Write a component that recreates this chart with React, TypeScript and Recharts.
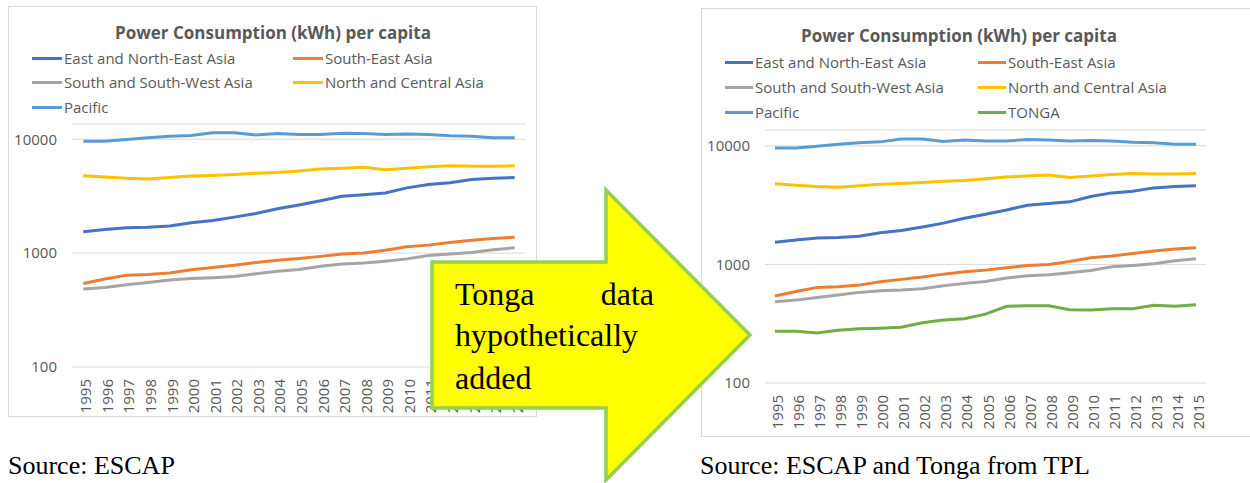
import { CartesianGrid, Line, LineChart, XAxis, YAxis } from "recharts";

const years = [
  "1995", "1996", "1997", "1998", "1999", "2000", "2001", "2002", "2003", "2004", "2005",
  "2006", "2007", "2008", "2009", "2010", "2011", "2012", "2013", "2014", "2015",
];
const eastNorthEast = [1540, 1610, 1670, 1690, 1730, 1850, 1930, 2070, 2230, 2450, 2650, 2880, 3160, 3260, 3370, 3740, 4010, 4140, 4420, 4540, 4600];
const southEast = [541, 592, 640, 648, 669, 714, 748, 782, 828, 866, 895, 936, 981, 1000, 1060, 1136, 1175, 1238, 1295, 1346, 1380];
const southSouthWest = [485, 500, 527, 551, 581, 599, 608, 623, 660, 692, 719, 767, 802, 818, 850, 890, 954, 981, 1012, 1072, 1115];
const northCentral = [4780, 4650, 4540, 4480, 4600, 4750, 4810, 4900, 5030, 5100, 5270, 5470, 5570, 5680, 5400, 5570, 5730, 5840, 5780, 5780, 5840];
const pacific = [9600, 9600, 9930, 10300, 10600, 10800, 11400, 11400, 10900, 11200, 11000, 11000, 11300, 11200, 11000, 11100, 11000, 10700, 10600, 10300, 10300];
const tonga = [273, 273, 264, 279, 287, 290, 295, 322, 340, 348, 381, 443, 448, 448, 415, 412, 422, 422, 452, 443, 457];

const yTicks = [100, 1000, 10000];
const titleText = "Power Consumption (kWh) per capita";

const series = [
  { key: "east", name: "East and North-East Asia", color: "#4472C4", values: eastNorthEast },
  { key: "southEast", name: "South-East Asia", color: "#ED7D31", values: southEast },
  { key: "south", name: "South and South-West Asia", color: "#A5A5A5", values: southSouthWest },
  { key: "north", name: "North and Central Asia", color: "#FFC000", values: northCentral },
  { key: "pacific", name: "Pacific", color: "#5B9BD5", values: pacific },
  { key: "tonga", name: "TONGA", color: "#70AD47", values: tonga },
];

const data = years.map((year, i) => {
  const row: Record<string, string | number> = { year };
  series.forEach((s) => (row[s.key] = s.values[i]));
  return row;
});

const textGray = "#595959";
const font = "'Open Sans', sans-serif";

function YearTick(props: any) {
  const { x, y, payload } = props;
  const ty = y + 12;
  return (
    <text
      x={x + 2}
      y={ty}
      transform={`rotate(-90, ${x + 2}, ${ty})`}
      textAnchor="end"
      dominantBaseline="central"
      fill={textGray}
      fontSize={15}
      fontFamily={font}
    >
      {payload.value}
    </text>
  );
}

type PanelProps = {
  left: number;
  top: number;
  width: number;
  height: number;
  marginTop: number;
  marginRight: number;
  xAxisHeight: number;
  xPad: number;
  keys: string[];
  titleX: number;
  titleY: number;
  legendCols: number[];
  legendRows: number[];
  legendLine: number;
};

function Panel(p: PanelProps) {
  const shown = series.filter((s) => p.keys.includes(s.key));
  return (
    <>
      <div
        style={{
          position: "absolute",
          left: p.left,
          top: p.top,
          width: p.width,
          height: p.height,
          border: "1px solid #d9d9d9",
          boxSizing: "border-box",
          background: "#fff",
        }}
      />
      <div style={{ position: "absolute", left: p.left, top: p.top }}>
        <LineChart
          width={p.width}
          height={p.height}
          data={data}
          margin={{ top: p.marginTop, right: p.marginRight, bottom: 0, left: 0 }}
        >
          <CartesianGrid vertical={false} stroke="#d9d9d9" />
          <XAxis
            dataKey="year"
            height={p.xAxisHeight}
            axisLine={false}
            tickLine={false}
            tickSize={0}
            tickMargin={0}
            interval={0}
            padding={{ left: p.xPad, right: p.xPad }}
            tick={<YearTick />}
          />
          <YAxis
            scale="log"
            type="number"
            domain={[100, 13600]}
            ticks={yTicks}
            allowDataOverflow
            width={64}
            axisLine={false}
            tickLine={false}
            tickSize={0}
            tickMargin={15}
            tick={{ fill: textGray, fontSize: 15, fontFamily: font }}
          />
          {shown.map((s) => (
            <Line
              key={s.key}
              type="linear"
              dataKey={s.key}
              name={s.name}
              stroke={s.color}
              strokeWidth={3}
              dot={false}
              isAnimationActive={false}
            />
          ))}
        </LineChart>
      </div>
      <div
        style={{
          position: "absolute",
          left: p.titleX,
          top: p.titleY,
          transform: "translate(-50%, -50%)",
          whiteSpace: "nowrap",
          fontFamily: font,
          fontWeight: 700,
          fontSize: 17,
          color: textGray,
        }}
      >
        {titleText}
      </div>
      {shown.map((s, i) => (
        <div
          key={s.key}
          style={{
            position: "absolute",
            left: p.legendCols[i % 2],
            top: p.legendRows[Math.floor(i / 2)],
            transform: "translateY(-50%)",
            display: "flex",
            alignItems: "center",
            whiteSpace: "nowrap",
            fontFamily: font,
            fontSize: 15,
            color: textGray,
          }}
        >
          <span
            style={{
              display: "inline-block",
              width: p.legendLine,
              height: 3,
              background: s.color,
              marginRight: 2,
            }}
          />
          {s.name}
        </div>
      ))}
    </>
  );
}

export default function App() {
  return (
    <div
      style={{
        position: "absolute",
        left: 0,
        top: 0,
        width: 1250,
        height: 483,
        overflow: "hidden",
        background: "#fff",
      }}
    >
      <Panel
        left={8}
        top={6}
        width={529}
        height={411}
        marginTop={118}
        marginRight={11}
        xAxisHeight={50}
        xPad={11.3}
        keys={["east", "southEast", "south", "north", "pacific"]}
        titleX={273}
        titleY={32}
        legendCols={[32, 293]}
        legendRows={[58, 82, 107]}
        legendLine={30}
      />
      <Panel
        left={701}
        top={8}
        width={560}
        height={429}
        marginTop={122}
        marginRight={55}
        xAxisHeight={54}
        xPad={10}
        keys={["east", "southEast", "south", "north", "pacific", "tonga"]}
        titleX={959}
        titleY={35}
        legendCols={[725, 978]}
        legendRows={[62, 87, 112]}
        legendLine={28}
      />
      <svg
        width={1250}
        height={483}
        style={{ position: "absolute", left: 0, top: 0, pointerEvents: "none" }}
      >
        <polygon
          points="432,262 606,262 606,190 750,335 606,480 606,408 432,408"
          fill="#FFFF00"
          stroke="#92D050"
          strokeWidth={3.5}
          strokeLinejoin="miter"
        />
        <g fontFamily="'Liberation Serif', 'Times New Roman', serif" fontSize={32} fill="#000">
          <text x={455} y={305}>Tonga</text>
          <text x={654} y={305} textAnchor="end">data</text>
          <text x={455} y={346}>hypothetically</text>
          <text x={455} y={389}>added</text>
        </g>
        <g fontFamily="'Liberation Serif', 'Times New Roman', serif" fontSize={26} fill="#000">
          <text x={8} y={474}>Source: ESCAP</text>
          <text x={700} y={474}>Source: ESCAP and Tonga from TPL</text>
        </g>
      </svg>
    </div>
  );
}
